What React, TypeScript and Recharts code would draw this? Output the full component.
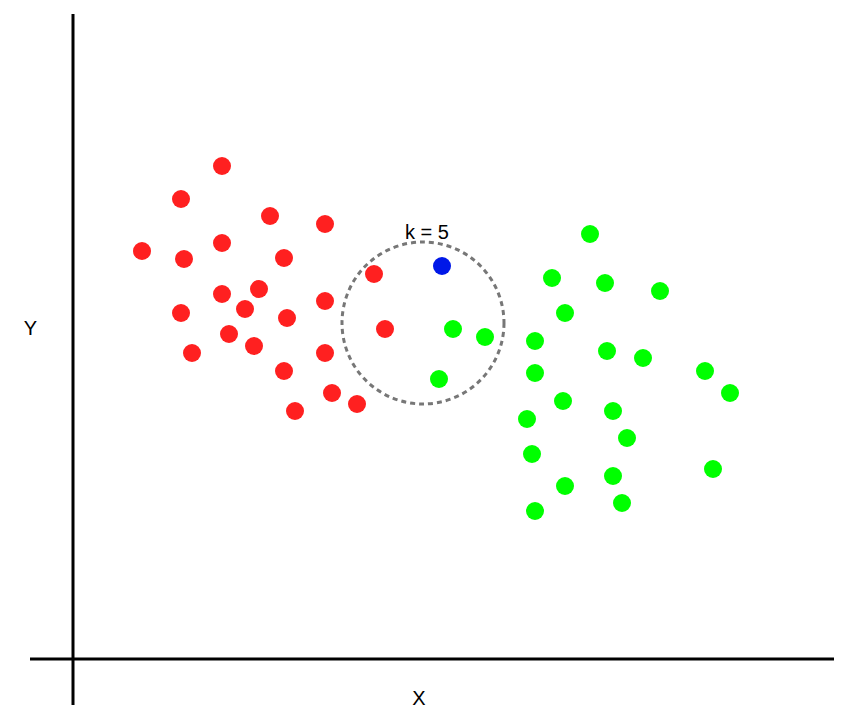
import React from 'react';
import {
  ScatterChart,
  Scatter,
  XAxis,
  YAxis,
  ReferenceLine,
  ReferenceDot,
} from 'recharts';

// class A (red) points
const redX = [14.9, 10.8, 19.7, 25.2, 6.9, 14.9, 11.1, 21.1, 30.1, 14.9, 18.6, 17.2, 10.8, 21.4, 25.2, 15.6, 18.1, 11.9, 25.2, 31.2, 21.1, 25.9, 28.4, 22.2];
const redY = [49.3, 46.0, 44.3, 43.5, 40.8, 41.6, 40.0, 40.1, 38.5, 36.5, 37.0, 35.0, 34.6, 34.1, 35.8, 32.5, 31.3, 30.6, 30.6, 33.0, 28.8, 26.6, 25.5, 24.8];

// class B (green) points
const greenX = [38.0, 41.2, 36.6, 51.7, 47.9, 53.2, 58.7, 49.2, 46.2, 53.4, 57.0, 63.2, 65.7, 46.2, 49.0, 45.4, 54.0, 55.4, 45.9, 64.0, 54.0, 49.2, 54.9, 46.2];
const greenY = [33.0, 32.2, 28.0, 42.5, 38.1, 37.6, 36.8, 34.6, 31.8, 30.8, 30.1, 28.8, 26.6, 28.6, 25.8, 24.0, 24.8, 22.1, 20.5, 19.0, 18.3, 17.3, 15.6, 14.8];

// the new point to classify
const queryX = [36.9];
const queryY = [39.3];

// neighbourhood circle centre
const circleX = 35.0;
const circleY = 33.6;

const labelText = ['X', 'Y', 'k = 5'];
const labelX = [34.6, -4.25, 35.4];
const labelY = [-3.9, 33.1, 42.7];

const toPoints = (xs: number[], ys: number[]) => xs.map((x, i) => ({ x, y: ys[i] }));

const redData = toPoints(redX, redY);
const greenData = toPoints(greenX, greenY);
const queryData = toPoints(queryX, queryY);
const labelData = labelText.map((text, i) => ({ x: labelX[i], y: labelY[i], text }));

const dot = (color: string) => (props: any) => (
  <circle cx={props.cx} cy={props.cy} r={9} fill={color} />
);

const textShape = (props: any) => (
  <text
    x={props.cx}
    y={props.cy}
    textAnchor="middle"
    dominantBaseline="central"
    fontSize={20}
    fontFamily="'Liberation Sans', Arial, sans-serif"
    fill="#000"
  >
    {props.payload.text}
  </text>
);

export default function App() {
  return (
    <div style={{ position: 'absolute', left: 0, top: 0, width: 866, height: 726, background: '#fff' }}>
      <ScatterChart width={866} height={726} margin={{ top: 0, right: 0, bottom: 0, left: 0 }}>
        <XAxis type="number" dataKey="x" domain={[-7.3, 79.3]} allowDataOverflow hide />
        <YAxis type="number" dataKey="y" domain={[-6.7, 65.9]} allowDataOverflow hide />
        <ReferenceLine
          segment={[{ x: -4.3, y: 0 }, { x: 76.1, y: 0 }]}
          stroke="#000"
          strokeWidth={3}
        />
        <ReferenceLine
          segment={[{ x: 0, y: 64.5 }, { x: 0, y: -4.6 }]}
          stroke="#000"
          strokeWidth={3}
        />
        <ReferenceDot
          x={circleX}
          y={circleY}
          r={81}
          fill="none"
          stroke="#777"
          strokeWidth={3}
          strokeDasharray="5 4"
        />
        <Scatter data={redData} fill="#ff2020" shape={dot('#ff2020')} isAnimationActive={false} />
        <Scatter data={greenData} fill="#00ff00" shape={dot('#00ff00')} isAnimationActive={false} />
        <Scatter data={queryData} fill="#0018e8" shape={dot('#0018e8')} isAnimationActive={false} />
        <Scatter data={labelData} shape={textShape} isAnimationActive={false} />
      </ScatterChart>
    </div>
  );
}
